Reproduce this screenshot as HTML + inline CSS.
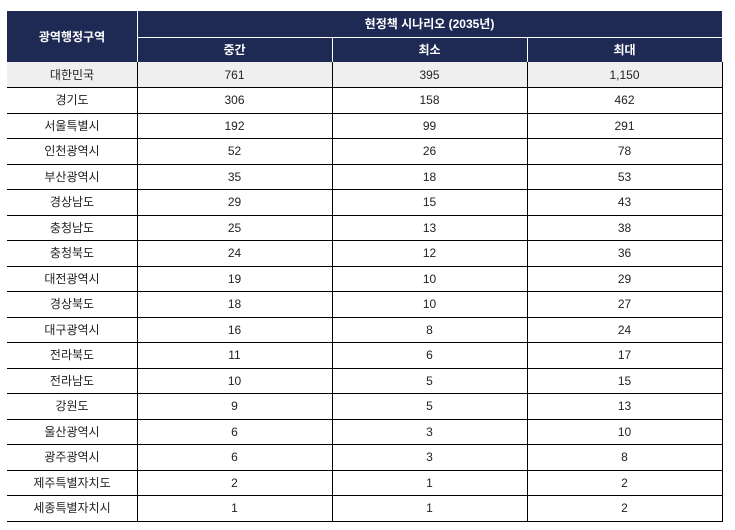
<!DOCTYPE html>
<html><head><meta charset="utf-8">
<style>
html,body{margin:0;padding:0;background:#fff;}
body{width:735px;height:530px;position:relative;overflow:hidden;font-family:"Liberation Sans","Noto Sans CJK KR","NanumGothic",sans-serif;font-size:12px;color:#222;}
.c{position:absolute;display:flex;align-items:center;justify-content:center;white-space:nowrap;line-height:14px;}
.h{background:#1f2a54;color:#fff;font-weight:bold;}
.l{position:absolute;background:#000;}
.w{position:absolute;background:#fff;}
</style></head><body>
<div class="c h" style="left:7px;top:11px;width:715px;height:51px;"></div>
<div class="c h" style="left:7px;top:11px;width:130px;height:51px;background:transparent;">광역행정구역</div>
<div class="c h" style="left:137px;top:11px;width:585px;height:26px;background:transparent;">현정책 시나리오 (2035년)</div>
<div class="c h" style="left:137px;top:37px;width:195px;height:25px;background:transparent;">중간</div>
<div class="c h" style="left:332px;top:37px;width:195px;height:25px;background:transparent;">최소</div>
<div class="c h" style="left:527px;top:37px;width:195px;height:25px;background:transparent;">최대</div>
<div class="w" style="left:137px;top:11px;width:1px;height:51px;"></div>
<div class="w" style="left:137px;top:37px;width:585px;height:1px;"></div>
<div class="w" style="left:332px;top:37px;width:1px;height:25px;"></div>
<div class="w" style="left:527px;top:37px;width:1px;height:25px;"></div>
<div style="position:absolute;left:7px;top:62px;width:715px;height:26px;background:#efefef;"></div>
<div id="rows"></div>
<script>
var d=[["대한민국","761","395","1,150"],["경기도","306","158","462"],["서울특별시","192","99","291"],["인천광역시","52","26","78"],["부산광역시","35","18","53"],["경상남도","29","15","43"],["충청남도","25","13","38"],["충청북도","24","12","36"],["대전광역시","19","10","29"],["경상북도","18","10","27"],["대구광역시","16","8","24"],["전라북도","11","6","17"],["전라남도","10","5","15"],["강원도","9","5","13"],["울산광역시","6","3","10"],["광주광역시","6","3","8"],["제주특별자치도","2","1","2"],["세종특별자치시","1","1","2"]];
var xs=[7,137,332,527],ws=[130,195,195,195],h="";
for(var i=0;i<d.length;i++){var t=62+i*25.5;
for(var j=0;j<4;j++){h+='<div class="c" style="left:'+xs[j]+'px;top:'+t+'px;width:'+ws[j]+'px;height:25.5px;">'+d[i][j]+'</div>';}
h+='<div class="l" style="left:7px;top:'+(t+25.5-0.5)+'px;width:716px;height:1px;"></div>';}
[137,332,527,722].forEach(function(x){h+='<div class="l" style="left:'+x+'px;top:62px;width:1px;height:459.5px;"></div>';});
document.getElementById("rows").innerHTML=h;
</script>
</body></html>
